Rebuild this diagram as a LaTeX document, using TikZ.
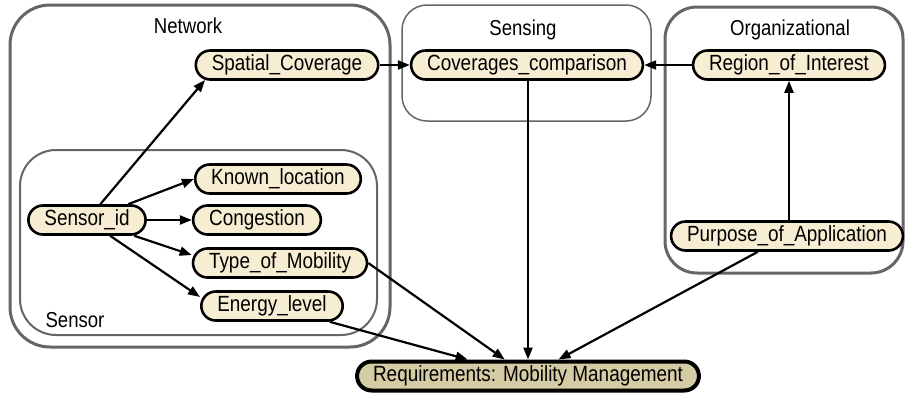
\documentclass[tikz,border=0pt]{standalone}
\usepackage{fontspec}
\setmainfont{Liberation Sans}[FakeStretch=0.86]
\usetikzlibrary{arrows.meta,calc}
\definecolor{cream}{HTML}{F7EDD3}
\definecolor{tan}{HTML}{D5CCA5}
\definecolor{frame}{HTML}{666666}
\tikzset{
  ent/.style={draw=black, line width=2.6pt, fill=cream, rectangle, rounded corners=14.5pt,
    minimum height=29pt, inner xsep=16pt, inner ysep=0pt, font=\fontsize{22pt}{24pt}\selectfont},
  goal/.style={ent, fill=tan, line width=4pt},
  grp/.style={draw=frame},
  grplabel/.style={anchor=base, font=\fontsize{21.6pt}{24pt}\selectfont},
  link/.style={draw=black, line width=2.2pt, -{Triangle[length=12pt,width=9pt]}}
}
\begin{document}
\begin{tikzpicture}[x=1pt,y=-1pt]
\useasboundingbox (0,0) rectangle (905,394);
% groups
\draw[grp, line width=3pt, rounded corners=40pt] (10,5) rectangle (390,347);
\draw[grp, line width=2pt, rounded corners=36pt] (20,150) rectangle (377,335);
\draw[grp, line width=1.5pt, rounded corners=25pt] (402,5) rectangle (651,121);
\draw[grp, line width=3pt, rounded corners=32pt] (665,7) rectangle (903,273);
\node[grplabel] (lnet) at (188,33) {Network};
\node[grplabel] (lsen) at (75,327) {Sensor};
\node[grplabel] (lsns) at (523,35) {Sensing};
\node[grplabel] (lorg) at (790,35) {Organizational};
% nodes
\node[ent] (sc)  at (287,65)  {Spatial\_Coverage};
\node[ent] (kl)  at (278,179) {Known\_location};
\node[ent] (sid) at (87,220)  {Sensor\_id};
\node[ent] (cg)  at (257,220) {Congestion};
\node[ent] (tom) at (280,263) {Type\_of\_Mobility};
\node[ent] (ene) at (272,306) {Energy\_level};
\node[ent] (cc)  at (527,65)  {Coverages\_comparison};
\node[ent] (roi) at (789,65)  {Region\_of\_Interest};
\node[ent] (poa) at (787,236) {Purpose\_of\_Application};
\node[goal] (req) at (528,376) {Requirements: Mobility Management};
% connectors
\draw[link] (sid) -- ($(sc.center)+(-82,15)$);
\draw[link] (sid) -- (kl.west);
\draw[link] (sid) -- (cg);
\draw[link] (sid) -- ($(tom.west)+(0,-8)$);
\draw[link] (sid) -- ($(ene.west)+(0,-9)$);
\draw[link] (sc) -- (cc);
\draw[link] (roi) -- (cc);
\draw[link] (poa.north -| roi.south) -- (roi.south);
\draw[link] (cc.south -| req.north) -- (req.north);
\draw[link] (tom.east) -- (req);
\draw[link] (ene) -- (req);
\draw[link] (poa) -- (req);
\end{tikzpicture}
\end{document}
